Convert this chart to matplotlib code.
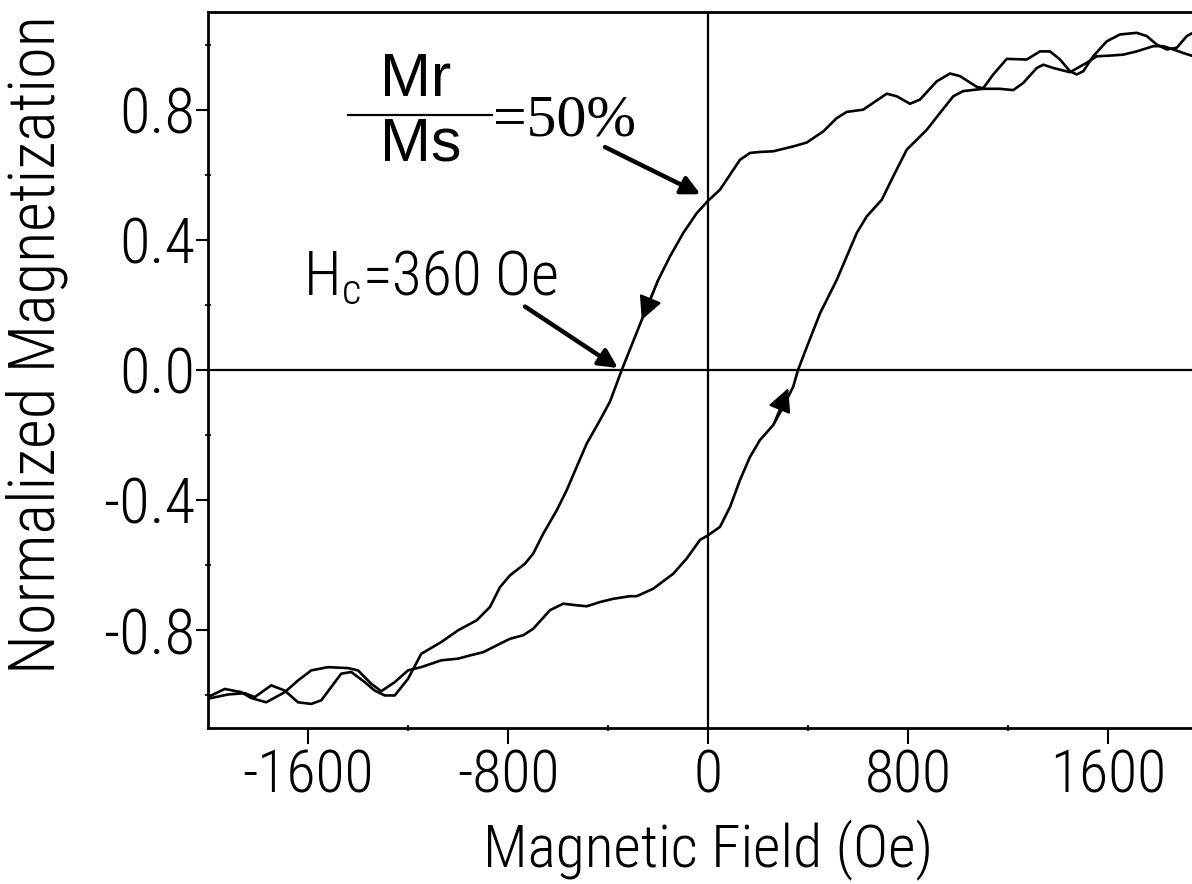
import matplotlib
matplotlib.use('Agg')
import matplotlib.pyplot as plt

# descending branch (field swept from + to -)
h_down = [-2000, -1920, -1853, -1813, -1747, -1693, -1640, -1587, -1547, -1467,
          -1427, -1373, -1333, -1293, -1253, -1200, -1147, -1067, -1000, -925,
          -872, -832, -792, -732, -699, -659, -605, -565, -525, -485,
          -432, -392, -345, -265, -232, -199, -152, -99, -45, 0,
          48, 88, 128, 168, 208, 261, 341, 395, 461, 515,
          555, 621, 661, 715, 755, 808, 848, 915, 968, 1008,
          1075, 1101, 1141, 1195, 1275, 1328, 1368, 1408, 1448, 1475,
          1501, 1541, 1595, 1648, 1715, 1755, 1795, 1835, 1875, 1915, 1950]
m_down = [-1.010, -0.997, -0.993, -1.005, -0.969, -0.985, -1.021, -1.026, -1.015, -0.933,
          -0.928, -0.959, -0.985, -1.000, -1.000, -0.949, -0.872, -0.836, -0.800, -0.769,
          -0.728, -0.667, -0.631, -0.595, -0.564, -0.503, -0.431, -0.369, -0.297, -0.226,
          -0.154, -0.097, 0.000, 0.154, 0.215, 0.277, 0.349, 0.421, 0.482, 0.520,
          0.554, 0.600, 0.646, 0.667, 0.670, 0.672, 0.687, 0.699, 0.733, 0.774,
          0.793, 0.800, 0.821, 0.849, 0.841, 0.818, 0.831, 0.887, 0.911, 0.903,
          0.870, 0.866, 0.908, 0.956, 0.954, 0.979, 0.979, 0.954, 0.918, 0.908,
          0.918, 0.964, 1.010, 1.031, 1.036, 1.026, 1.000, 0.985, 0.990, 1.026, 1.040]

# ascending branch (field swept from - to +)
h_up = [-2000, -1933, -1867, -1827, -1767, -1693, -1640, -1587, -1520, -1440,
        -1400, -1347, -1307, -1253, -1200, -1147, -1067, -1000, -952, -899,
        -832, -792, -739, -699, -632, -579, -525, -485, -432, -379,
        -312, -285, -219, -139, -85, -32, 0, 48, 88, 128,
        168, 208, 261, 301, 341, 360, 395, 448, 515, 555,
        595, 635, 695, 741, 795, 875, 928, 981, 1021, 1101,
        1168, 1221, 1261, 1315, 1341, 1381, 1448, 1515, 1555, 1608,
        1661, 1715, 1781, 1821, 1861, 1901, 1950]
m_up = [-1.005, -0.980, -0.990, -1.008, -1.021, -0.990, -0.954, -0.923, -0.913, -0.916,
        -0.923, -0.964, -0.987, -0.959, -0.923, -0.913, -0.892, -0.887, -0.877, -0.867,
        -0.841, -0.826, -0.815, -0.795, -0.738, -0.718, -0.723, -0.726, -0.713, -0.703,
        -0.695, -0.695, -0.672, -0.626, -0.579, -0.522, -0.508, -0.482, -0.421, -0.338,
        -0.267, -0.215, -0.169, -0.113, -0.051, 0.000, 0.070, 0.174, 0.277, 0.349,
        0.421, 0.472, 0.523, 0.595, 0.677, 0.738, 0.790, 0.841, 0.857, 0.864,
        0.864, 0.860, 0.882, 0.928, 0.938, 0.928, 0.915, 0.944, 0.964, 0.966,
        0.969, 0.979, 0.995, 0.995, 0.985, 0.974, 0.962]

xticks = [-1600, -800, 0, 800, 1600]
yticks = [-0.8, -0.4, 0.0, 0.4, 0.8]

narrow = ['Roboto Condensed', 'Noto Sans Condensed', 'Liberation Sans', 'DejaVu Sans']
plt.rcParams['font.family'] = narrow
plt.rcParams['font.stretch'] = 'condensed'
plt.rcParams['font.weight'] = 'light'
plt.rcParams['axes.labelweight'] = 'light'

fig = plt.figure(figsize=(11.92, 8.84), dpi=100)
ax = fig.add_axes([208/1192, 156/884, 1000/1192, 716/884])

ax.plot(h_down, m_down, color='black', lw=1.9, solid_joinstyle='round')
ax.plot(h_up, m_up, color='black', lw=1.9, solid_joinstyle='round')
ax.axhline(0, color='black', lw=1.6)
ax.axvline(0, color='black', lw=1.6)

ax.set_xlim(-2000, 2000)
ax.set_ylim(-1.1, 1.1)
ax.set_xticks(xticks)
ax.set_xticklabels(['-1600', '-800', '0', '800', '1600'])
ax.set_yticks(yticks)
ax.set_yticklabels(['-0.8', '-0.4', '0.0', '0.4', '0.8'])
ax.set_xticks([-1200, -400, 400, 1200], minor=True)
ax.set_yticks([-1.0, -0.6, -0.2, 0.2, 0.6, 1.0], minor=True)
ax.tick_params(axis='x', which='major', length=11.5, width=1.5, pad=3, labelsize=43)
ax.tick_params(axis='y', which='major', length=8.5, width=1.5, pad=1, labelsize=45)
ax.tick_params(which='minor', direction='inout', length=4, width=1.2)
for s in ax.spines.values():
    s.set_linewidth(2)

ax.set_xlabel('Magnetic Field (Oe)', fontsize=43, fontweight='light')
ax.xaxis.set_label_coords(0.5, -0.128)
ax.set_ylabel('Normalized Magnetization', fontsize=46.5, fontweight='light')
ax.yaxis.set_label_coords(-0.14, 0.535)

# Mr/Ms = 50% label
ax.text(-1168, 0.89, 'Mr', family='Liberation Sans', fontsize=44, ha='center', va='center')
ax.text(-1148, 0.69, 'Ms', family='Liberation Sans', fontsize=44, ha='center', va='center')
ax.plot([-1440, -864], [0.785, 0.785], color='black', lw=1.6)
ax.text(-860, 0.72, '=50%', family='Liberation Serif', fontsize=43, ha='left', va='baseline')
ax.annotate('', xy=(-30, 0.54), xytext=(-412, 0.685),
            arrowprops=dict(arrowstyle='-|>', color='black', lw=3.2, mutation_scale=28,
                            shrinkA=0, shrinkB=0))

# coercive field label
ax.text(-1620, 0.23, 'H$_\\mathregular{c}$=360 Oe', fontsize=44, ha='left', va='baseline')
ax.annotate('', xy=(-360, 0.006), xytext=(-732, 0.195),
            arrowprops=dict(arrowstyle='-|>', color='black', lw=3.2, mutation_scale=28,
                            shrinkA=0, shrinkB=0))

# direction arrows on the loop
head = '-|>,head_length=0.6,head_width=0.3'
ax.annotate('', xy=(-265, 0.154), xytext=(-199, 0.277),
            arrowprops=dict(arrowstyle=head, color='black', lw=1.5, mutation_scale=24,
                            shrinkA=0, shrinkB=0))
ax.annotate('', xy=(321, -0.056), xytext=(261, -0.169),
            arrowprops=dict(arrowstyle=head, color='black', lw=1.5, mutation_scale=24,
                            shrinkA=0, shrinkB=0))

fig.savefig('out.png', dpi=100)
